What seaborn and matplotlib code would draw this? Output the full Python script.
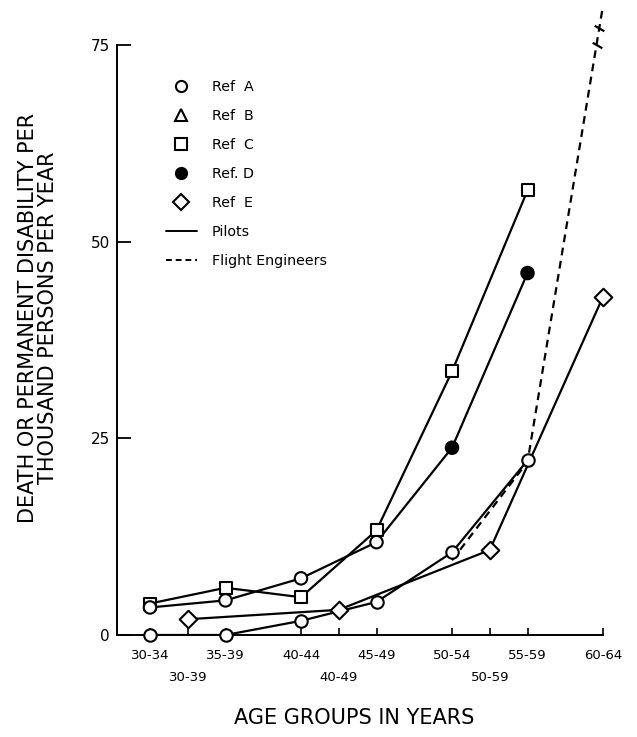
import matplotlib
matplotlib.use("Agg")
from matplotlib import pyplot as plt
from matplotlib.lines import Line2D
import numpy as np
import pandas as pd
import seaborn as sns

age_groups = ["30-34", "35-39", "40-44", "45-49", "50-54", "55-59", "60-64"]
decade_groups = ["30-39", "40-49", "50-59"]
decade_pos = [0.5, 2.5, 4.5]

# pilots (solid curves): position on the age axis and rate per 1000 per year
ref_a_pos = [0, 1, 2, 3, 4, 5]
ref_a = [0.0, 0.0, 1.8, 4.2, 10.5, 22.2]
ref_c_pos = [0, 1, 2, 3, 4, 5]
ref_c = [4.0, 6.0, 4.8, 13.3, 33.5, 56.5]
ref_d_pos = [0, 1, 2, 3, 4, 5]
ref_d = [3.5, 4.4, 7.2, 11.8, 23.8, 46.0]
ref_d_filled = [False, False, False, False, True, True]
ref_e_pos = [0.5, 2.5, 4.5, 6]
ref_e = [2.0, 3.2, 10.8, 43.0]

# flight engineers (dashed), last point is off the scale
fe_pos = [4, 5, 6]
fe = [9.5, 22.0, 80.0]

curves = [
    ("A", "Pilots", ref_a_pos, ref_a),
    ("C", "Pilots", ref_c_pos, ref_c),
    ("D", "Pilots", ref_d_pos, ref_d),
    ("E", "Pilots", ref_e_pos, ref_e),
    ("FE", "Flight Engineers", fe_pos, fe),
]
df = pd.concat([
    pd.DataFrame({"curve": name, "crew": crew, "pos": pos, "rate": vals})
    for name, crew, pos, vals in curves
], ignore_index=True)

sns.set_style("ticks")
plt.rcParams["font.family"] = ["DejaVu Sans"]
plt.rcParams["text.color"] = "black"

fig = plt.figure(figsize=(6.37, 7.37), dpi=100)
ax = fig.add_axes([117 / 637, 102 / 737, 520 / 637, 635 / 737])

sns.lineplot(data=df, x="pos", y="rate", units="curve", style="crew",
             estimator=None, sort=False, color="black", linewidth=1.6,
             dashes={"Pilots": "", "Flight Engineers": (3.5, 2.5)},
             legend=False, ax=ax)

mk = dict(edgecolor="black", linewidth=1.5, zorder=3, clip_on=False, legend=False, ax=ax)
sns.scatterplot(x=ref_a_pos, y=ref_a, marker="o", s=80, color="white", **mk)
sns.scatterplot(x=ref_c_pos, y=ref_c, marker="s", s=85, color="white", **mk)
sns.scatterplot(x=ref_d_pos, y=ref_d, marker="o", s=80, hue=ref_d_filled,
                palette={True: "black", False: "white"}, **mk)
sns.scatterplot(x=ref_e_pos, y=ref_e, marker="D", s=80, color="white", **mk)

# break marks on the off-scale dashed segment
for v in [75.0, 77.2]:
    xb = fe_pos[1] + (v - fe[1]) / (fe[2] - fe[1]) * (fe_pos[2] - fe_pos[1])
    ax.plot([xb], [v], marker=(2, 0, 60), markersize=8, color="black", mew=1.6)

ax.set_xlim(-0.437, 6.45)
ax.set_ylim(0, 80.7)
sns.despine(ax=ax)
ax.spines["left"].set_bounds(0, 75)
ax.spines["bottom"].set_bounds(-0.437, 6)
for s in ["left", "bottom"]:
    ax.spines[s].set_linewidth(1.4)
    ax.spines[s].set_color("black")

ax.set_yticks([0, 25, 50, 75])
ax.tick_params(axis="y", direction="in", length=10, width=1.3, pad=5,
               labelsize=11, colors="black")
ax.set_xticks(range(len(age_groups)))
ax.set_xticklabels(age_groups)
ax.set_xticks(decade_pos, minor=True)
ax.set_xticklabels(decade_groups, minor=True)
ax.tick_params(axis="x", which="major", direction="in", length=5, width=1.2,
               pad=10, labelsize=9.5, colors="black")
ax.tick_params(axis="x", which="minor", direction="in", length=5, width=1.2,
               pad=26, labelsize=9.5, colors="black")
ax.set_xlabel("")
ax.set_ylabel("")

handles = [
    Line2D([], [], ls="none", marker="o", ms=8, mfc="white", mec="black", mew=1.5, label="Ref  A"),
    Line2D([], [], ls="none", marker="^", ms=8, mfc="white", mec="black", mew=1.5, label="Ref  B"),
    Line2D([], [], ls="none", marker="s", ms=8, mfc="white", mec="black", mew=1.5, label="Ref  C"),
    Line2D([], [], ls="none", marker="o", ms=8, mfc="black", mec="black", mew=1.5, label="Ref. D"),
    Line2D([], [], ls="none", marker="D", ms=8, mfc="white", mec="black", mew=1.5, label="Ref  E"),
    Line2D([], [], color="black", lw=1.4, label="Pilots"),
    Line2D([], [], color="black", lw=1.4, ls=(0, (3, 2)), label="Flight Engineers"),
]
ax.legend(handles=handles, loc="upper left", bbox_to_anchor=(0.08, 0.886),
          frameon=False, fontsize=10.3, handlelength=2.2, handletextpad=1.0,
          labelspacing=1.05, borderpad=0, numpoints=1)

fig.text(38 / 637, 1 - 318 / 737,
         "DEATH OR PERMANENT DISABILITY PER\nTHOUSAND PERSONS PER YEAR",
         rotation=90, ha="center", va="center", ma="center",
         fontsize=15, linespacing=1.0)
fig.text(354 / 637, 1 - 718 / 737, "AGE GROUPS IN YEARS",
         ha="center", va="center", fontsize=15)

fig.savefig("out.png", dpi=100)
